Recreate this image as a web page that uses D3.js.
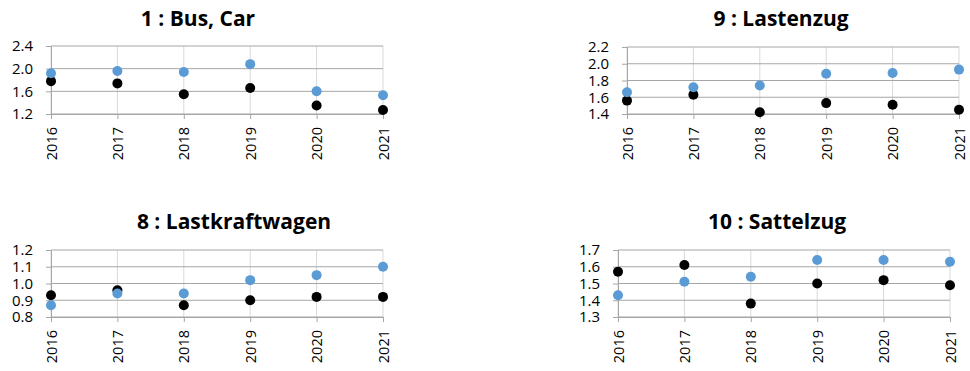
<!DOCTYPE html>
<html>
<head>
<meta charset="utf-8">
<script src="https://cdn.jsdelivr.net/npm/d3@7"></script>
<style>
  html, body { margin: 0; padding: 0; background: #fff; }
  svg { display: block; }
  .title { font-family: "Open Sans", "Noto Sans", sans-serif; font-weight: 700; font-size: 21px; fill: #000; }
  .yaxis .tick text { font-family: "Open Sans", "Noto Sans", sans-serif; font-size: 15px; fill: #000; }
  .xaxis .tick text { font-family: "Open Sans", "Noto Sans", sans-serif; font-size: 14.5px; fill: #000; }
</style>
</head>
<body>
<svg id="chart" width="970" height="371"></svg>
<script>
// Years shared by all four panels
const years = ["2016", "2017", "2018", "2019", "2020", "2021"];

// Panel titles
const titles = ["1 : Bus, Car", "9 : Lastenzug", "8 : Lastkraftwagen", "10 : Sattelzug"];

// Blue series per panel
const busCarBlue         = [1.92, 1.96, 1.94, 2.08, 1.60, 1.53];
const lastenzugBlue      = [1.66, 1.72, 1.74, 1.88, 1.89, 1.93];
const lastkraftwagenBlue = [0.87, 0.94, 0.94, 1.02, 1.05, 1.10];
const sattelzugBlue      = [1.43, 1.51, 1.54, 1.64, 1.64, 1.63];

// Black series per panel
const busCarBlack         = [1.78, 1.74, 1.55, 1.66, 1.35, 1.27];
const lastenzugBlack      = [1.56, 1.63, 1.42, 1.53, 1.51, 1.45];
const lastkraftwagenBlack = [0.93, 0.96, 0.87, 0.90, 0.92, 0.92];
const sattelzugBlack      = [1.57, 1.61, 1.38, 1.50, 1.52, 1.49];

// Value axis ticks per panel
const busCarTicks         = [1.2, 1.6, 2.0, 2.4];
const lastenzugTicks      = [1.4, 1.6, 1.8, 2.0, 2.2];
const lastkraftwagenTicks = [0.8, 0.9, 1.0, 1.1, 1.2];
const sattelzugTicks      = [1.3, 1.4, 1.5, 1.6, 1.7];

const panels = [
  { title: titles[0], blue: busCarBlue, black: busCarBlack, ticks: busCarTicks,
    x0: 51, x1: 383, y0: 46, y1: 114, tx: 198, ty: 26 },
  { title: titles[1], blue: lastenzugBlue, black: lastenzugBlack, ticks: lastenzugTicks,
    x0: 627, x1: 959, y0: 47, y1: 114, tx: 781, ty: 26 },
  { title: titles[2], blue: lastkraftwagenBlue, black: lastkraftwagenBlack, ticks: lastkraftwagenTicks,
    x0: 51, x1: 383, y0: 250, y1: 317, tx: 234, ty: 229 },
  { title: titles[3], blue: sattelzugBlue, black: sattelzugBlack, ticks: sattelzugTicks,
    x0: 618, x1: 950, y0: 250, y1: 317, tx: 777, ty: 229 }
];

const svg = d3.select("#chart");
const fmt = d3.format(".1f");

panels.forEach(p => {
  const g = svg.append("g");

  const x = d3.scalePoint().domain(years).range([p.x0, p.x1]);
  const y = d3.scaleLinear()
    .domain([p.ticks[0], p.ticks[p.ticks.length - 1]])
    .range([p.y1, p.y0]);

  // vertical gridlines
  g.append("g").selectAll("line").data(years).join("line")
    .attr("x1", d => x(d)).attr("x2", d => x(d))
    .attr("y1", p.y0).attr("y2", p.y1)
    .attr("stroke", "#d9d9d9").attr("stroke-width", 1);

  // horizontal gridlines
  g.append("g").selectAll("line").data(p.ticks).join("line")
    .attr("x1", p.x0).attr("x2", p.x1)
    .attr("y1", d => y(d)).attr("y2", d => y(d))
    .attr("stroke", "#a6a6a6").attr("stroke-width", 1);

  // value axis
  const ya = g.append("g").attr("class", "yaxis")
    .attr("transform", `translate(${p.x0},0)`)
    .call(d3.axisLeft(y).tickValues(p.ticks).tickFormat(fmt).tickSize(5).tickPadding(13));
  ya.select(".domain").attr("stroke", "#a6a6a6");
  ya.selectAll(".tick line").attr("stroke", "#a6a6a6");

  // category axis
  const xa = g.append("g").attr("class", "xaxis")
    .attr("transform", `translate(0,${p.y1})`)
    .call(d3.axisBottom(x).tickSize(5).tickPadding(4));
  xa.select(".domain").attr("stroke", "#a6a6a6");
  xa.selectAll(".tick line").attr("stroke", "#a6a6a6");
  xa.selectAll(".tick text")
    .attr("transform", "rotate(-90)")
    .attr("text-anchor", "end")
    .attr("x", -13)
    .attr("y", 0)
    .attr("dy", "0.35em");

  // markers: black series first, blue series on top
  g.append("g").selectAll("circle").data(p.black).join("circle")
    .attr("cx", (d, i) => x(years[i])).attr("cy", d => y(d))
    .attr("r", 5).attr("fill", "#000");
  g.append("g").selectAll("circle").data(p.blue).join("circle")
    .attr("cx", (d, i) => x(years[i])).attr("cy", d => y(d))
    .attr("r", 5).attr("fill", "#5b9bd5");

  // title
  svg.append("text").attr("class", "title")
    .attr("x", p.tx).attr("y", p.ty)
    .attr("text-anchor", "middle")
    .text(p.title);
});
</script>
</body>
</html>
